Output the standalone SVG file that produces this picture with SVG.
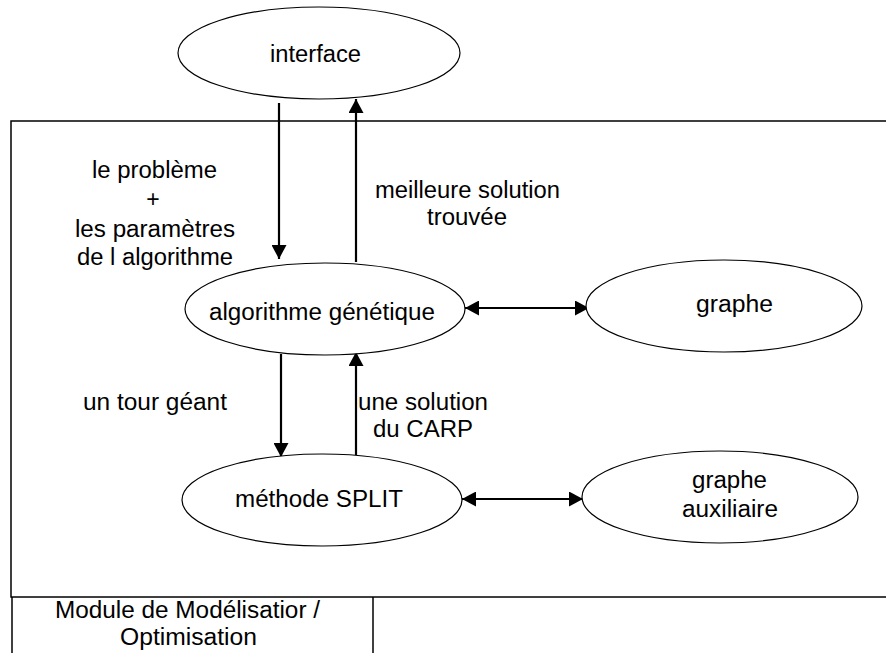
<svg xmlns="http://www.w3.org/2000/svg" width="886" height="653" viewBox="0 0 886 653">
<style>
.node{fill:#fff;stroke:#000;stroke-width:1.2}
.frame{fill:none;stroke:#000;stroke-width:1.5}
.conn{stroke:#000;stroke-width:2.2;fill:none}
text{font-family:"Liberation Sans",Arial,sans-serif;font-size:23px;fill:#000}
</style>
<defs>
<marker id="ah" markerUnits="userSpaceOnUse" markerWidth="15" markerHeight="15" refX="14" refY="7.5" orient="auto-start-reverse" viewBox="0 0 15 15">
<path d="M0,0 L14,7.5 L0,15 z" fill="#000"/>
</marker>
</defs>
<rect width="886" height="653" fill="#fff"/>
<g id="module-frame">
<rect class="frame" x="11" y="121" width="885" height="476"/>
<line class="frame" x1="12" y1="597" x2="12" y2="660"/>
<line class="frame" x1="373" y1="597" x2="373" y2="660"/>
<text x="55" y="618" textLength="265" lengthAdjust="spacingAndGlyphs">Module de Modélisatior /</text>
<text x="120" y="645" textLength="137" lengthAdjust="spacingAndGlyphs">Optimisation</text>
</g>
<g id="connectors">
<line class="conn" x1="279" y1="103" x2="279" y2="259" marker-end="url(#ah)"/>
<line class="conn" x1="356" y1="262" x2="356" y2="99" marker-end="url(#ah)"/>
<line class="conn" x1="281" y1="354" x2="281" y2="457" marker-end="url(#ah)"/>
<line class="conn" x1="356" y1="455" x2="356" y2="352" marker-end="url(#ah)"/>
<line class="conn" x1="465" y1="308" x2="589" y2="308" marker-start="url(#ah)" marker-end="url(#ah)"/>
<line class="conn" x1="462" y1="499" x2="583" y2="499" marker-start="url(#ah)" marker-end="url(#ah)"/>
<text x="92" y="178" textLength="125" lengthAdjust="spacingAndGlyphs">le problème</text>
<text x="153" y="207" text-anchor="middle">+</text>
<text x="75" y="237" textLength="160" lengthAdjust="spacingAndGlyphs">les paramètres</text>
<text x="77" y="265" textLength="156" lengthAdjust="spacingAndGlyphs">de l algorithme</text>
<text x="375" y="198" textLength="185" lengthAdjust="spacingAndGlyphs">meilleure solution</text>
<text x="427" y="225" textLength="80" lengthAdjust="spacingAndGlyphs">trouvée</text>
<text x="83" y="410" textLength="144" lengthAdjust="spacingAndGlyphs">un tour géant</text>
<text x="358" y="410" textLength="130" lengthAdjust="spacingAndGlyphs">une solution</text>
<text x="373" y="437" textLength="100" lengthAdjust="spacingAndGlyphs">du CARP</text>
</g>
<g id="interface">
<ellipse class="node" cx="319" cy="53" rx="141" ry="46"/>
<text x="270" y="62" textLength="91" lengthAdjust="spacingAndGlyphs">interface</text>
</g>
<g id="algorithme-genetique">
<ellipse class="node" cx="325" cy="309" rx="140" ry="46"/>
<text x="209" y="320" textLength="226" lengthAdjust="spacingAndGlyphs">algorithme génétique</text>
</g>
<g id="graphe">
<ellipse class="node" cx="724" cy="306" rx="138" ry="46"/>
<text x="696" y="312" textLength="77" lengthAdjust="spacingAndGlyphs">graphe</text>
</g>
<g id="methode-split">
<ellipse class="node" cx="322" cy="500" rx="140" ry="46"/>
<text x="235" y="507" textLength="168" lengthAdjust="spacingAndGlyphs">méthode SPLIT</text>
</g>
<g id="graphe-auxiliaire">
<ellipse class="node" cx="720" cy="497" rx="138" ry="46"/>
<text x="692" y="488" textLength="75" lengthAdjust="spacingAndGlyphs">graphe</text>
<text x="682" y="517" textLength="96" lengthAdjust="spacingAndGlyphs">auxiliaire</text>
</g>
</svg>
